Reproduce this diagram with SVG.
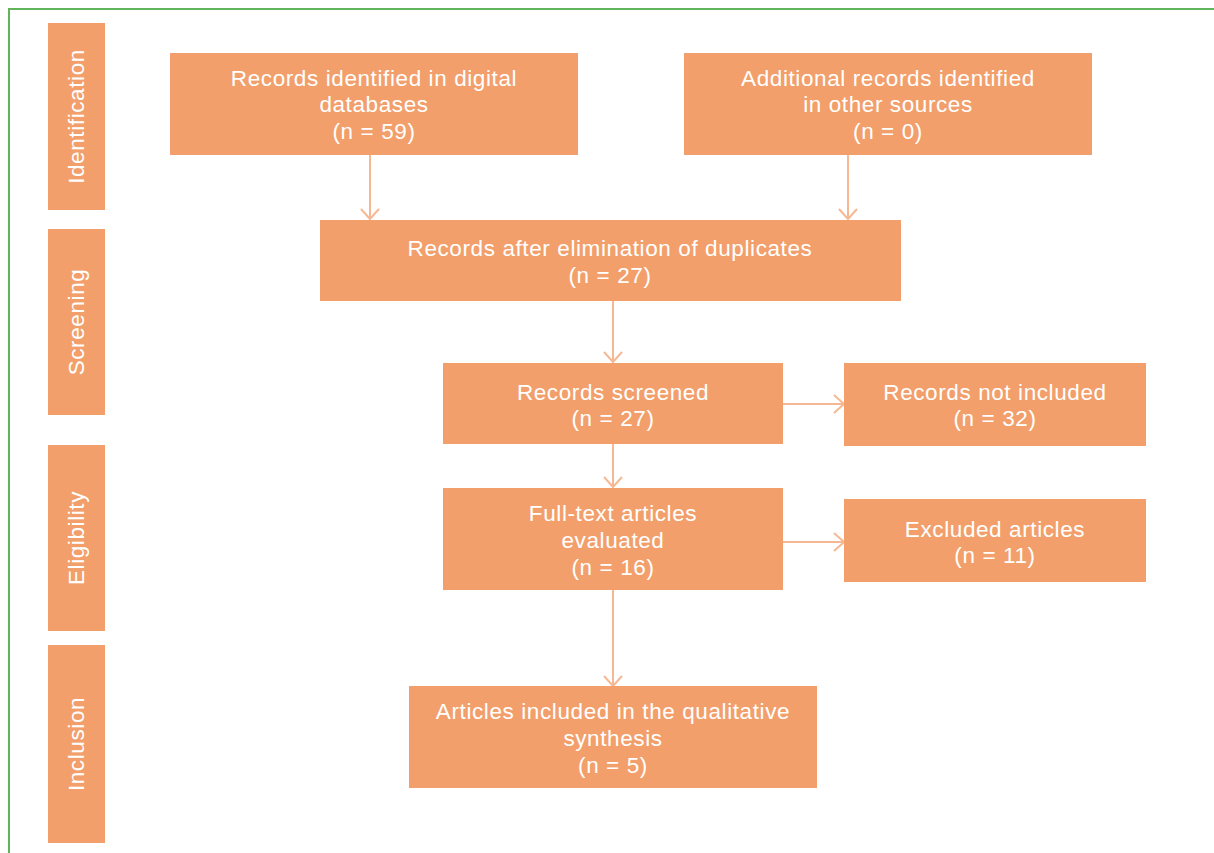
<svg xmlns="http://www.w3.org/2000/svg" width="1214" height="853" viewBox="0 0 1214 853">
<style>
.box{fill:#F29F6C}
.t{fill:#ffffff;font-family:"Liberation Sans",Arial,sans-serif;font-size:22.5px;letter-spacing:0.6px;text-anchor:middle}
.c{stroke:#F6B893;stroke-width:2;fill:none}
</style>
<defs>
<marker id="ah" markerWidth="14" markerHeight="22" refX="11" refY="10" orient="auto" markerUnits="userSpaceOnUse">
<path d="M1,1 L11,10 L1,19" fill="none" stroke="#F6B893" stroke-width="2"/>
</marker>
</defs>
<rect width="1214" height="853" fill="#ffffff"/>
<path d="M9,853 V9 H1214" fill="none" stroke="#62B45A" stroke-width="2"/>

<g id="phase-identification"><rect class="box" x="48" y="23" width="57" height="187"/><text class="t" transform="translate(84,116.5) rotate(-90)">Identification</text></g>
<g id="phase-screening"><rect class="box" x="48" y="229" width="57" height="186"/><text class="t" transform="translate(84,322) rotate(-90)">Screening</text></g>
<g id="phase-eligibility"><rect class="box" x="48" y="445" width="57" height="186"/><text class="t" transform="translate(84,538) rotate(-90)">Eligibility</text></g>
<g id="phase-inclusion"><rect class="box" x="48" y="645" width="57" height="198"/><text class="t" transform="translate(84,744) rotate(-90)">Inclusion</text></g>

<g id="connectors">
<line class="c" x1="370" y1="155" x2="370" y2="219" marker-end="url(#ah)"/>
<line class="c" x1="848" y1="155" x2="848" y2="219" marker-end="url(#ah)"/>
<line class="c" x1="613" y1="301" x2="613" y2="362" marker-end="url(#ah)"/>
<line class="c" x1="783" y1="404" x2="844" y2="404" marker-end="url(#ah)"/>
<line class="c" x1="613" y1="444" x2="613" y2="487" marker-end="url(#ah)"/>
<line class="c" x1="783" y1="542" x2="844" y2="542" marker-end="url(#ah)"/>
<line class="c" x1="613" y1="590" x2="613" y2="686" marker-end="url(#ah)"/>
</g>

<g id="records-identified"><rect class="box" x="170" y="53" width="408" height="102"/>
<text class="t" x="374" y="86">Records identified in digital</text>
<text class="t" x="374" y="112">databases</text>
<text class="t" x="374" y="139">(n = 59)</text></g>

<g id="additional-records"><rect class="box" x="684" y="53" width="408" height="102"/>
<text class="t" x="888" y="86">Additional records identified</text>
<text class="t" x="888" y="112">in other sources</text>
<text class="t" x="888" y="139">(n = 0)</text></g>

<g id="after-duplicates"><rect class="box" x="320" y="220" width="581" height="81"/>
<text class="t" x="610" y="256">Records after elimination of duplicates</text>
<text class="t" x="610" y="283">(n = 27)</text></g>

<g id="records-screened"><rect class="box" x="443" y="363" width="340" height="81"/>
<text class="t" x="613" y="400">Records screened</text>
<text class="t" x="613" y="426">(n = 27)</text></g>

<g id="records-not-included"><rect class="box" x="844" y="363" width="302" height="83"/>
<text class="t" x="995" y="400">Records not included</text>
<text class="t" x="995" y="426">(n = 32)</text></g>

<g id="full-text"><rect class="box" x="443" y="488" width="340" height="102"/>
<text class="t" x="613" y="521">Full-text articles</text>
<text class="t" x="613" y="548">evaluated</text>
<text class="t" x="613" y="575">(n = 16)</text></g>

<g id="excluded"><rect class="box" x="844" y="499" width="302" height="83"/>
<text class="t" x="995" y="537">Excluded articles</text>
<text class="t" x="995" y="563">(n = 11)</text></g>

<g id="included"><rect class="box" x="409" y="686" width="408" height="102"/>
<text class="t" x="613" y="719">Articles included in the qualitative</text>
<text class="t" x="613" y="746">synthesis</text>
<text class="t" x="613" y="773">(n = 5)</text></g>
</svg>
